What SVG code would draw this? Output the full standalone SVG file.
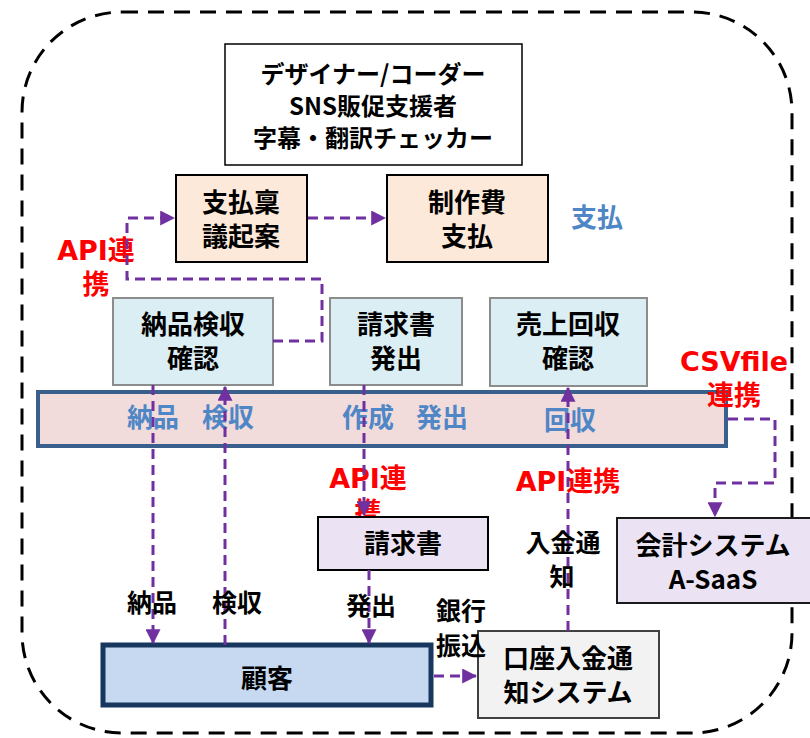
<svg xmlns="http://www.w3.org/2000/svg" width="810" height="738" viewBox="0 0 810 738">
<defs>
<marker id="ah" markerWidth="5" markerHeight="5" refX="4.6" refY="2.5" orient="auto" markerUnits="strokeWidth">
<path d="M0,0 L5,2.5 L0,5 Z" fill="#7030a0"/>
</marker>
<style>
.t{font-family:"Noto Sans CJK JP","Noto Sans CJK SC",sans-serif;font-weight:bold;fill:#000;text-anchor:middle}
.b{font-size:26px}
.top{font-size:24px}
.blue{font-family:"Noto Sans CJK JP",sans-serif;font-weight:bold;fill:#4f86c6;font-size:26px;text-anchor:middle}
.red{font-family:"DejaVu Sans","Noto Sans CJK JP",sans-serif;font-weight:bold;fill:#ff0000;font-size:27px;text-anchor:middle}
.lbl{font-size:25px}
.c{fill:none;stroke:#7030a0;stroke-width:3;stroke-dasharray:10 6}
</style>
</defs>
<rect x="22" y="12" width="770" height="721" rx="100" ry="100" fill="none" stroke="#000" stroke-width="3" stroke-dasharray="16 10"/>

<g id="top">
<rect x="225" y="44" width="297" height="121" fill="#fff" stroke="#000" stroke-width="1.5"/>
<text class="t top" x="373" y="83">デザイナー/コーダー</text>
<text class="t top" x="373" y="115">SNS販促支援者</text>
<text class="t top" x="373" y="147">字幕・翻訳チェッカー</text>
</g>

<g id="ringi">
<rect x="176" y="175" width="131" height="87" fill="#fde9d9" stroke="#000" stroke-width="2"/>
<text class="t b" x="241" y="212">支払稟</text>
<text class="t b" x="241" y="246">議起案</text>
</g>

<g id="seisakuhi">
<rect x="387" y="175" width="161" height="87" fill="#fde9d9" stroke="#000" stroke-width="2"/>
<text class="t b" x="467" y="212">制作費</text>
<text class="t b" x="467" y="246">支払</text>
</g>
<text class="blue" x="597" y="227">支払</text>

<g id="band">
<rect x="38" y="392" width="688" height="54" fill="#f2dcdb" stroke="#3a5f8c" stroke-width="4"/>
<text class="blue" x="153" y="427">納品</text>
<text class="blue" x="228" y="427">検収</text>
<text class="blue" x="368" y="427">作成</text>
<text class="blue" x="442" y="427">発出</text>
<text class="blue" x="570" y="430">回収</text>
</g>

<g id="kenshu">
<rect x="113" y="298" width="160" height="87" fill="#dbeef4" stroke="#8c8c8c" stroke-width="2"/>
<text class="t b" x="193" y="334">納品検収</text>
<text class="t b" x="193" y="368">確認</text>
</g>

<g id="seikyu">
<rect x="330" y="298" width="132" height="87" fill="#dbeef4" stroke="#8c8c8c" stroke-width="2"/>
<text class="t b" x="396" y="334">請求書</text>
<text class="t b" x="396" y="368">発出</text>
</g>

<g id="uriage">
<rect x="490" y="298" width="157" height="88" fill="#dbeef4" stroke="#8c8c8c" stroke-width="2"/>
<text class="t b" x="568" y="334">売上回収</text>
<text class="t b" x="568" y="368">確認</text>
</g>

<text class="red" x="96" y="260">API連</text>
<text class="red" x="96" y="294">携</text>
<text class="red" x="368" y="488">API連</text>
<text class="red" x="368" y="522">携</text>
<text class="red" x="568" y="491">API連携</text>
<text class="red" x="734" y="371">CSVfile</text>
<text class="red" x="734" y="405">連携</text>

<g id="seikyusho">
<rect x="318" y="517" width="170" height="53" fill="#ebe3f3" stroke="#000" stroke-width="2"/>
<text class="t b" x="403" y="553">請求書</text>
</g>

<g id="kaikei">
<rect x="617" y="518" width="195" height="85" fill="#ebe3f3" stroke="#1a1a1a" stroke-width="2"/>
<text class="t b" x="713" y="555">会計システム</text>
<text class="t b" x="713" y="589">A-SaaS</text>
</g>

<g id="kokyaku">
<rect x="103" y="645" width="328" height="60" fill="#c6d9f1" stroke="#17375e" stroke-width="5"/>
<text class="t b" x="267" y="688">顧客</text>
</g>

<g id="koza">
<rect x="478" y="631" width="181" height="87" fill="#f2f2f2" stroke="#404040" stroke-width="2"/>
<text class="t b" x="568" y="668">口座入金通</text>
<text class="t b" x="568" y="702">知システム</text>
</g>

<g id="connectors">
<path class="c" d="M273,341 H322 V279 H127 V218 H174" marker-end="url(#ah)"/>
<path class="c" d="M308,218 H385" marker-end="url(#ah)"/>
<path class="c" d="M153,385 V643" marker-end="url(#ah)"/>
<path class="c" d="M225,645 V387" marker-end="url(#ah)"/>
<path class="c" d="M364,385 V515" marker-end="url(#ah)"/>
<path class="c" d="M369,570 V643" marker-end="url(#ah)"/>
<path class="c" d="M568,631 V388" marker-end="url(#ah)"/>
<path class="c" d="M728,419 H775 V483 H715 V516" marker-end="url(#ah)"/>
<path class="c" d="M434,676 H476" marker-end="url(#ah)"/>
</g>

<g id="labels">
<text class="t lbl" x="152" y="612">納品</text>
<text class="t lbl" x="237" y="612">検収</text>
<text class="t lbl" x="371" y="615">発出</text>
<text class="t lbl" x="461" y="620">銀行</text>
<text class="t lbl" x="461" y="655">振込</text>
<text class="t lbl" x="563" y="552">入金通</text>
<text class="t lbl" x="562" y="586">知</text>
</g>
</svg>
